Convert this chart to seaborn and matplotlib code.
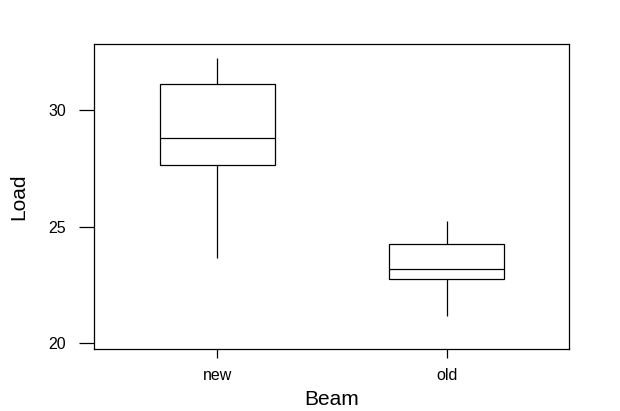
import matplotlib
matplotlib.use('Agg')
import matplotlib.pyplot as plt
import numpy as np
import pandas as pd
import seaborn as sns

# Five-number summaries (min, Q1, median, Q3, max)
beams = ['new', 'old']
load_new = [23.65, 27.64, 28.80, 31.11, 32.22]
load_old = [21.16, 22.76, 23.19, 24.27, 25.26]

df = pd.DataFrame({
    'Beam': ['new'] * len(load_new) + ['old'] * len(load_old),
    'Load': load_new + load_old,
})

sns.set_style('white')
plt.rcParams['font.family'] = ['Liberation Sans', 'DejaVu Sans']

fig, ax = plt.subplots(figsize=(6.2, 4.11), dpi=100)
fig.subplots_adjust(left=0.152, right=0.918, top=0.892, bottom=0.152)

sns.boxplot(data=df, x='Beam', y='Load', order=beams, ax=ax,
            color='white', linecolor='black', linewidth=0.9,
            width=0.5, whis=np.inf, showcaps=False)

ax.set_xlim(-0.536, 1.534)
ax.set_ylim(19.78, 32.82)
ax.set_yticks([20, 25, 30])
for s in ax.spines.values():
    s.set_color('black')
    s.set_linewidth(0.9)

ax.tick_params(axis='y', left=True, length=11, width=0.9, pad=9.5, labelsize=11.5,
               color='black', labelcolor='black')
ax.tick_params(axis='x', bottom=True, length=6.5, width=0.9, pad=7.5, labelsize=11.5,
               color='black', labelcolor='black')
ax.set_xlabel('Beam', fontsize=15, labelpad=5, color='black')
ax.set_ylabel('Load', fontsize=15, labelpad=14, color='black')

fig.savefig('out.png', dpi=100)
